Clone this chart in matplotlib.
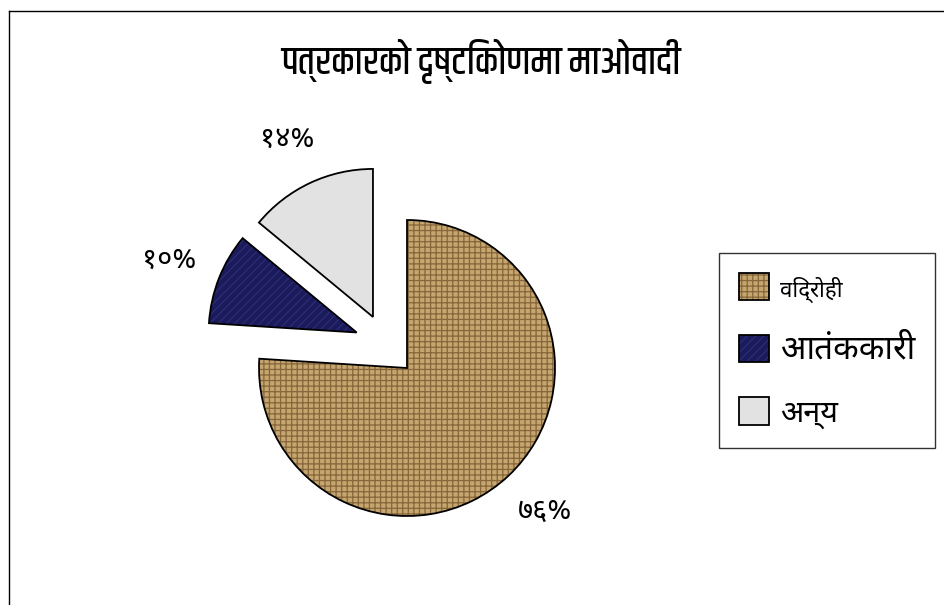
import numpy as np
import matplotlib
matplotlib.use("Agg")
import matplotlib.pyplot as plt
from matplotlib.lines import Line2D
from matplotlib.colors import to_rgba
from matplotlib import font_manager

# data
title = "पत्रकारको दृष्टिकोणमा माओवादी"
categories = ["विद्रोही", "आतंककारी", "अन्य"]
shares = [76, 10, 14]

face_colors = ["#c5a66f", "#1b1b5c", "#e2e2e2"]
hatch_colors = ["#86663a", "#2c2c78", "#d0d0d0"]
hatches = ["+++", "////", ""]
# slice offsets (radius units) for the pulled-out slices
offsets = [(0.0, 0.0), (-0.34, 0.24), (-0.23, 0.345)]
legend_sizes = [16, 24, 22]

DEV_DIGITS = "०१२३४५६७८९"


def to_dev(n):
    return "".join(DEV_DIGITS[int(c)] for c in str(n))


def pick(prefs):
    names = {f.name for f in font_manager.fontManager.ttflist}
    got = [p for p in prefs if p in names]
    return got + ["DejaVu Sans"]


body_font = pick(["Noto Sans Devanagari", "Mukta", "Hind", "Noto Sans Devanagari UI"])
title_font = pick(["Khand", "Noto Sans Devanagari UI", "Noto Sans Devanagari"])
plt.rcParams['font.family'] = body_font
plt.rcParams['hatch.linewidth'] = 0.9

W, H = 945, 605
fig = plt.figure(figsize=(W / 100, H / 100), dpi=100)

# frame lines (top and left only visible)
fig.add_artist(Line2D([9 / W, 1], [1 - 11 / H, 1 - 11 / H], transform=fig.transFigure, color="black", lw=1))
fig.add_artist(Line2D([9 / W, 9 / W], [0, 1 - 11 / H], transform=fig.transFigure, color="black", lw=1))

fig.text(481 / W, 1 - 61 / H, title, ha="center", va="center", fontsize=28,
         fontweight="medium", family=title_font)

# pie axes: radius 148 px, centre at (407, 368)
r_px = 148
side = 4 * r_px
ax = fig.add_axes([(407 - side / 2) / W, (H - 368 - side / 2) / H, side / W, side / H])

wedges, texts = ax.pie(
    shares,
    startangle=90,
    counterclock=False,
    colors=face_colors,
    wedgeprops=dict(edgecolor="black", linewidth=1.3),
    frame=True,
)
ax.set_xlim(-2, 2)
ax.set_ylim(-2, 2)
ax.set_aspect("equal")
ax.axis("off")

for w, h, hc, off, v in zip(wedges, hatches, hatch_colors, offsets, shares):
    w.set_center(off)
    if h:
        w.set_hatch(h)
        try:
            w.set_hatchcolor(hc)
        except AttributeError:
            w._hatch_color = to_rgba(hc)
    mid = np.deg2rad((w.theta1 + w.theta2) / 2)
    ax.text(off[0] + 1.36 * np.cos(mid), off[1] + 1.33 * np.sin(mid),
            to_dev(v) + "%", ha="center", va="center", fontsize=21, fontweight="normal")

leg = fig.legend(
    wedges,
    categories,
    loc="upper left",
    bbox_to_anchor=(719 / W, 1 - 253 / H),
    frameon=True,
    fancybox=False,
    edgecolor="black",
    fontsize=22,
    handlelength=1.0,
    handleheight=1.0,
    handletextpad=0.35,
    labelspacing=1.0,
    borderpad=0.65,
    borderaxespad=0,
)
leg.get_frame().set_linewidth(1)
for t, s in zip(leg.get_texts(), legend_sizes):
    t.set_fontsize(s)

fig.savefig("out.png", dpi=100)
